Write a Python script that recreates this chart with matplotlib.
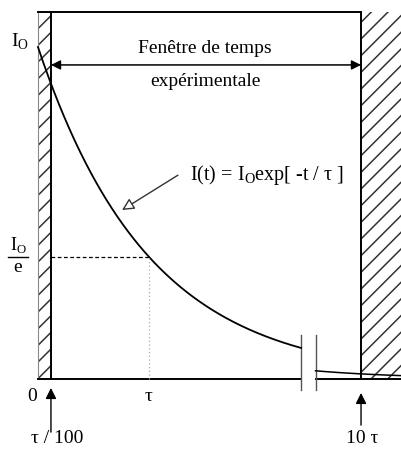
import numpy as np
import matplotlib
matplotlib.use("Agg")
import matplotlib.pyplot as plt
from matplotlib.patches import Rectangle

plt.rcParams['font.family'] = ['Liberation Serif', 'DejaVu Serif']
plt.rcParams['hatch.linewidth'] = 1.1

# schematic data, time in units of tau, intensity in units of I0
t_before = np.linspace(0, 2.37, 200)        # decay up to the axis break
t_after = np.linspace(3.7, 4.6, 50)          # decay after the break (compressed axis)
i_before = np.exp(-t_before)
i_after = np.exp(-t_after)

t_window_start = 0.117     # tau/100 (drawn position)
t_window_end = 2.91        # 10 tau (drawn position)
t_break = [2.37, 2.50]
frame_top = 1.104

x_labels = ["0", "τ"]
x_label_pos = [-0.054, 1.0]


def after_break_x(t):
    # compressed axis after the break
    return t_break[1] + (t - 3.7) * (0.78 / 0.9)


fig = plt.figure(figsize=(4.02, 4.5), dpi=100)
ax = fig.add_axes([0, 0, 1, 1])
ax.set_xlim(-0.342, 3.279)
ax.set_ylim(-0.2139, 1.1416)
ax.axis("off")

lw = 1.4
# hatched zones outside the experimental window
ax.add_patch(Rectangle((0, 0), t_window_start, frame_top, fill=False,
                       hatch='//', edgecolor='#333333', linewidth=0))
ax.add_patch(Rectangle((t_window_end, 0), 1.0, frame_top, fill=False,
                       hatch='//', edgecolor='#333333', linewidth=0))

# frame
ax.plot([0, 0], [0, frame_top], color='#888888', lw=0.8)
ax.plot([t_window_start, t_window_start], [0, frame_top], color='black', lw=lw)
ax.plot([t_window_end, t_window_end], [0, frame_top], color='black', lw=lw)
ax.plot([0, t_window_end], [frame_top, frame_top], color='black', lw=lw)
ax.plot([0, t_break[0]], [0, 0], color='black', lw=lw)
ax.plot([t_break[1], 3.3], [0, 0], color='black', lw=lw)

# break marks
for xb in t_break:
    ax.plot([xb, xb], [-0.033, 0.1325], color='#555555', lw=1.0)

# decay curve
ax.plot(t_before, i_before, color='black', lw=1.3)
ax.plot(after_break_x(t_after), i_after, color='black', lw=1.1)

# I0/e guides
ax.plot([t_window_start, 1.0], [np.exp(-1), np.exp(-1)], color='black',
        lw=0.9, ls=(0, (3, 2)))
ax.plot([1.0, 1.0], [0, np.exp(-1)], color='#aaaaaa', lw=0.9, ls=(0, (1, 2)))

# experimental window arrow
ax.annotate("", xy=(t_window_start, 0.946), xytext=(t_window_end, 0.946),
            arrowprops=dict(arrowstyle='<|-|>', color='black', lw=1.1,
                            mutation_scale=14, shrinkA=0, shrinkB=0))
ax.text(1.505, 0.997, "Fenêtre de temps", ha='center', va='center', fontsize=14)
ax.text(1.505, 0.897, "expérimentale", ha='center', va='center', fontsize=14)

# equation label
ax.annotate("", xy=(0.757, 0.509), xytext=(1.261, 0.614),
            arrowprops=dict(arrowstyle='-|>', edgecolor='#333333', lw=1.0,
                            facecolor='white', mutation_scale=18,
                            shrinkA=0, shrinkB=0))
ax.text(1.369, 0.614, "I(t) = I$_\\mathregular{O}$exp[ -t / τ ]", ha='left',
        va='center', fontsize=14.5)

# y labels
ax.text(-0.162, 1.015, "I$_\\mathregular{O}$", ha='center', va='center', fontsize=14)
ax.text(-0.180, (379 - 245) / 332, "I$_\\mathregular{O}$", ha='center',
        va='center', fontsize=13)
ax.plot([-0.270, -0.090], [np.exp(-1), np.exp(-1)], color='black', lw=1.0)
ax.text(-0.180, (379 - 268) / 332, "e", ha='center', va='center', fontsize=14)

# x labels
for lab, pos in zip(x_labels, x_label_pos):
    ax.text(pos, -0.054, lab, ha='center', va='center', fontsize=14)

ax.annotate("", xy=(t_window_start, -0.027), xytext=(t_window_start, -0.160),
            arrowprops=dict(arrowstyle='-|>', color='black', lw=1.0,
                            mutation_scale=16, shrinkA=0, shrinkB=0))
ax.text(0.171, -0.178, "τ / 100", ha='center', va='center', fontsize=14)
ax.annotate("", xy=(t_window_end, -0.042), xytext=(t_window_end, -0.139),
            arrowprops=dict(arrowstyle='-|>', color='black', lw=1.0,
                            mutation_scale=16, shrinkA=0, shrinkB=0))
ax.text(t_window_end + 0.01, -0.178, "10 τ", ha='center', va='center', fontsize=14)

fig.savefig("out.png", dpi=100)
